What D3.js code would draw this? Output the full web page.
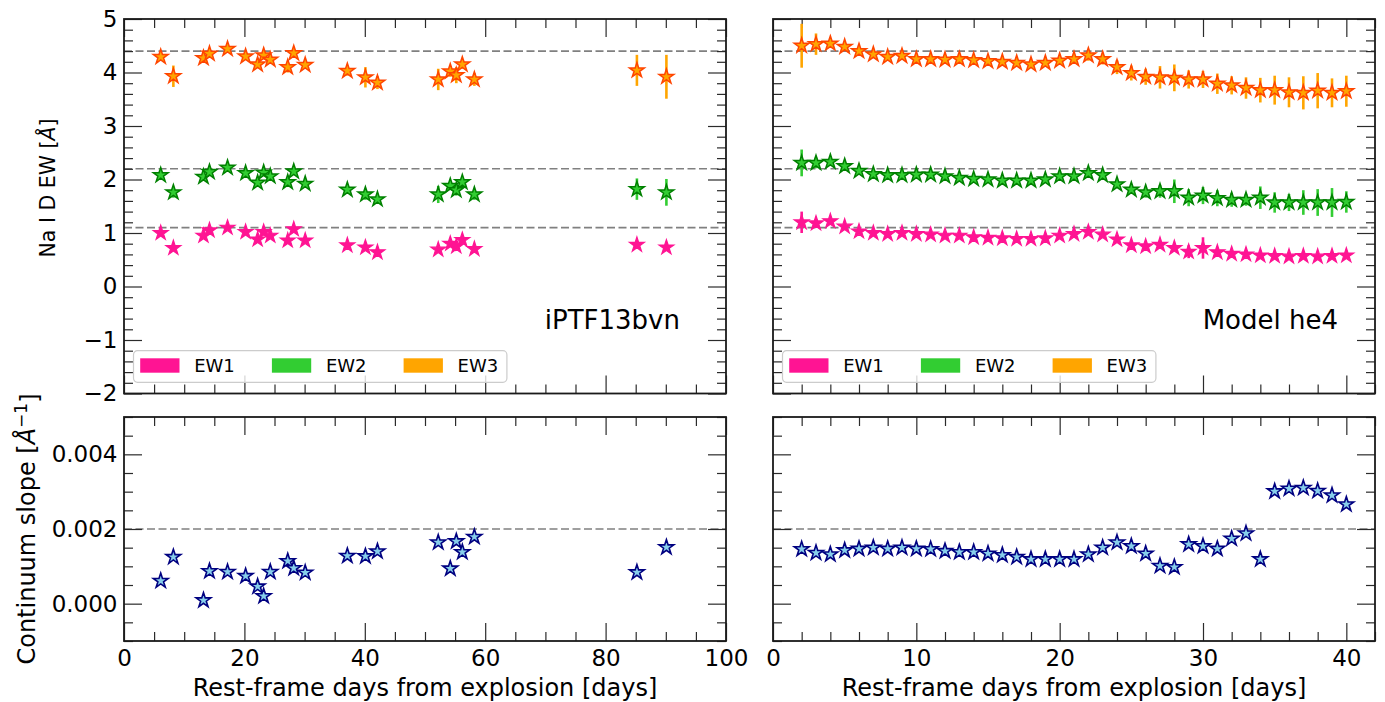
<!DOCTYPE html>
<html>
<head>
<meta charset="utf-8">
<script src="https://cdn.jsdelivr.net/npm/d3@7"></script>
<style>
  body { margin: 0; background: #fff; }
  svg { display: block; font-family: "DejaVu Sans", sans-serif; }
</style>
</head>
<body>
<svg id="fig" width="1385" height="702"></svg>
<script>
// ---- iPTF13bvn observations ----
const daysObs = [6.1, 8.2, 13.2, 14.2, 17.2, 20.2, 22.2, 23.2, 24.3, 27.2, 28.2, 30.1,
                 37.1, 40.1, 42.1, 52.2, 54.2, 55.2, 56.2, 58.2, 85.2, 90.1];
const ew1Obs = [1.00, 0.72, 0.95, 1.05, 1.10, 1.02, 0.88, 1.02, 0.95, 0.86, 1.07, 0.86,
                0.77, 0.73, 0.64, 0.69, 0.80, 0.75, 0.87, 0.70, 0.78, 0.73];
const ew1ObsErr = [0.03, 0.04, 0.03, 0.03, 0.03, 0.03, 0.03, 0.03, 0.03, 0.03, 0.03, 0.03,
                   0.03, 0.04, 0.03, 0.04, 0.03, 0.04, 0.03, 0.03, 0.05, 0.06];
const ew2Obs = [2.08, 1.76, 2.05, 2.14, 2.22, 2.12, 1.94, 2.13, 2.06, 1.95, 2.15, 1.92,
                1.81, 1.72, 1.63, 1.72, 1.88, 1.80, 1.95, 1.72, 1.82, 1.76];
const ew2ObsErr = [0.06, 0.10, 0.06, 0.06, 0.05, 0.05, 0.06, 0.06, 0.06, 0.07, 0.06, 0.06,
                   0.07, 0.10, 0.07, 0.16, 0.08, 0.10, 0.08, 0.10, 0.20, 0.25];
const ew3Obs = [4.29, 3.93, 4.27, 4.35, 4.44, 4.30, 4.15, 4.32, 4.24, 4.10, 4.36, 4.14,
                4.03, 3.91, 3.81, 3.87, 4.02, 3.95, 4.15, 3.87, 4.04, 3.92];
const ew3ObsErr = [0.06, 0.20, 0.07, 0.06, 0.05, 0.05, 0.07, 0.07, 0.06, 0.10, 0.06, 0.06,
                   0.09, 0.19, 0.12, 0.20, 0.10, 0.15, 0.08, 0.12, 0.29, 0.41];
const slopeObs = [0.00061, 0.00125, 0.00009, 0.00087, 0.00085, 0.00074, 0.00046, 0.00020,
                  0.00085, 0.00114, 0.00095, 0.00083, 0.00128, 0.00127, 0.00140, 0.00164,
                  0.00094, 0.00167, 0.00138, 0.00179, 0.00084, 0.00151];

// ---- Model he4 (days 2..40) ----
const daysMod = [2, 3, 4, 5, 6, 7, 8, 9, 10, 11, 12, 13, 14, 15, 16, 17, 18, 19, 20, 21,
                 22, 23, 24, 25, 26, 27, 28, 29, 30, 31, 32, 33, 34, 35, 36, 37, 38, 39, 40];
const ew1Mod = [1.20, 1.18, 1.22, 1.12, 1.03, 1.00, 0.98, 1.00, 0.98, 0.97, 0.95, 0.95, 0.92,
                0.91, 0.90, 0.89, 0.89, 0.90, 0.95, 0.98, 1.02, 0.97, 0.88, 0.77, 0.75, 0.78,
                0.72, 0.65, 0.72, 0.64, 0.61, 0.60, 0.58, 0.57, 0.56, 0.57, 0.56, 0.57, 0.58];
const ew1ModErr = [0.20, 0.08, 0.04, 0.04, 0.04, 0.04, 0.04, 0.04, 0.04, 0.04, 0.04, 0.04, 0.04,
                   0.04, 0.04, 0.04, 0.04, 0.04, 0.04, 0.04, 0.04, 0.04, 0.05, 0.05, 0.05, 0.06,
                   0.06, 0.12, 0.20, 0.06, 0.06, 0.05, 0.05, 0.05, 0.05, 0.05, 0.05, 0.05, 0.05];
const ew2Mod = [2.31, 2.31, 2.33, 2.25, 2.16, 2.10, 2.08, 2.08, 2.09, 2.09, 2.06, 2.03, 2.01,
                2.00, 1.98, 1.98, 1.98, 2.00, 2.06, 2.06, 2.12, 2.08, 1.91, 1.81, 1.76, 1.78,
                1.78, 1.66, 1.70, 1.65, 1.62, 1.62, 1.66, 1.57, 1.57, 1.57, 1.57, 1.57, 1.58];
const ew2ModErr = [0.25, 0.10, 0.05, 0.05, 0.05, 0.05, 0.05, 0.05, 0.05, 0.05, 0.05, 0.05, 0.05,
                   0.05, 0.05, 0.05, 0.05, 0.05, 0.05, 0.05, 0.06, 0.06, 0.07, 0.08, 0.10, 0.12,
                   0.22, 0.16, 0.16, 0.15, 0.13, 0.11, 0.21, 0.19, 0.16, 0.23, 0.25, 0.27, 0.20];
const ew3Mod = [4.50, 4.53, 4.54, 4.48, 4.40, 4.34, 4.29, 4.31, 4.25, 4.25, 4.24, 4.25, 4.23,
                4.21, 4.20, 4.18, 4.15, 4.18, 4.22, 4.25, 4.32, 4.25, 4.10, 3.99, 3.92, 3.91,
                3.90, 3.87, 3.87, 3.79, 3.76, 3.71, 3.67, 3.67, 3.63, 3.62, 3.66, 3.62, 3.65];
const ew3ModErr = [0.41, 0.20, 0.06, 0.05, 0.05, 0.05, 0.05, 0.05, 0.05, 0.05, 0.05, 0.05, 0.05,
                   0.05, 0.05, 0.05, 0.05, 0.05, 0.05, 0.06, 0.10, 0.10, 0.13, 0.14, 0.15, 0.21,
                   0.25, 0.17, 0.16, 0.19, 0.17, 0.20, 0.23, 0.27, 0.28, 0.31, 0.33, 0.27, 0.29];
const slopeMod = [0.00146, 0.00136, 0.00132, 0.00143, 0.00147, 0.00150, 0.00147, 0.00150,
                  0.00147, 0.00146, 0.00141, 0.00138, 0.00138, 0.00134, 0.00130, 0.00125,
                  0.00119, 0.00119, 0.00119, 0.00119, 0.00132, 0.00150, 0.00164, 0.00154,
                  0.00134, 0.00101, 0.00098, 0.00159, 0.00154, 0.00147, 0.00174, 0.00188,
                  0.00119, 0.00301, 0.00308, 0.00310, 0.00302, 0.00290, 0.00266];

// reference levels
const ewRefLevels = [1.1, 2.2, 4.4];
const slopeRefLevels = [0.002];

// legend entries
const legendNames = ["EW1", "EW2", "EW3"];
const legendColors = ["#ff1493", "#32cd32", "#ffa500"];

// axis ticks
const xObsMajor = [0, 20, 40, 60, 80, 100];
const xModMajor = [0, 10, 20, 30, 40];
const ewMajor = [-2, -1, 0, 1, 2, 3, 4, 5];
const slopeMajor = [0, 0.002, 0.004];

const panelTitles = ["iPTF13bvn", "Model he4"];
const xLabelText = "Rest-frame days from explosion [days]";

// ---------------------------------------------------------------
const svg = d3.select("#fig");
const FONT = '"DejaVu Sans", sans-serif';

const colL = [124, 726], colR = [773, 1375];
const rowTop = [393.5, 19], rowBot = [641, 417];

const xObs = d3.scaleLinear().domain([0, 100]).range(colL);
const xMod = d3.scaleLinear().domain([0, 42]).range(colR);
const yEW = d3.scaleLinear().domain([-2, 5]).range(rowTop);
const ySlope = d3.scaleLinear().domain([-0.001, 0.005]).range(rowBot);

function minorTicks(lo, hi, step, majors) {
  const out = [];
  const n = Math.round((hi - lo) / step);
  for (let i = 0; i <= n; i++) {
    const v = +(lo + i * step).toFixed(6);
    if (!majors.some(m => Math.abs(m - v) < step * 1e-3)) out.push(v);
  }
  return out;
}

function styleAxis(sel, showText) {
  sel.select(".domain").remove();
  sel.selectAll(".tick line").attr("stroke", "#2b2b2b").attr("stroke-width", 1.2);
  sel.selectAll(".tick text")
    .attr("font-family", FONT).attr("font-size", 23).attr("fill", "#000")
    .style("display", showText ? null : "none");
  sel.attr("font-family", FONT);
}

function drawFrame(x, y, xMaj, xMin, yMaj, yMin, xLab, yLab, yFmt) {
  const g = svg.append("g");
  const [x0, x1] = x.range();
  const [yb, yt] = y.range();
  const MAJ = -18, MIN = -9;

  const axes = [
    [d3.axisBottom, `translate(0,${yb})`, x, xMaj, xMin, xLab, d3.format("d")],
    [d3.axisTop, `translate(0,${yt})`, x, xMaj, xMin, false, d3.format("d")],
    [d3.axisLeft, `translate(${x0},0)`, y, yMaj, yMin, yLab, yFmt],
    [d3.axisRight, `translate(${x1},0)`, y, yMaj, yMin, false, yFmt]
  ];
  axes.forEach(([maker, tr, sc, maj, mn, lab, fmt]) => {
    const isY = (maker === d3.axisLeft || maker === d3.axisRight);
    g.append("g").attr("transform", tr)
      .call(maker(sc).tickValues(mn).tickSizeInner(MIN).tickSizeOuter(0).tickFormat(""))
      .call(s => styleAxis(s, false));
    g.append("g").attr("transform", tr)
      .call(maker(sc).tickValues(maj).tickSizeInner(MAJ).tickSizeOuter(0)
        .tickPadding(isY ? 6.5 : 9).tickFormat(fmt))
      .call(s => styleAxis(s, lab));
  });

  g.append("rect")
    .attr("x", x0).attr("y", yt).attr("width", x1 - x0).attr("height", yb - yt)
    .attr("fill", "none").attr("stroke", "#1a1a1a").attr("stroke-width", 1.8);
  return g;
}

function drawRefLines(x, y, levels) {
  const [x0, x1] = x.range();
  svg.append("g").selectAll("line").data(levels).join("line")
    .attr("x1", x0).attr("x2", x1)
    .attr("y1", d => y(d)).attr("y2", d => y(d))
    .attr("stroke", "#808080").attr("stroke-width", 1.6)
    .attr("stroke-dasharray", "8,3.5");
}

const starPath = d3.symbol().type(d3.symbolStar).size(68)();

function drawSeries(x, y, days, vals, errs, fill, edge, errColor, edgeW) {
  const g = svg.append("g");
  const idx = d3.range(days.length);
  if (errs) {
    g.selectAll("line").data(idx).join("line")
      .attr("x1", i => x(days[i])).attr("x2", i => x(days[i]))
      .attr("y1", i => y(vals[i] - errs[i])).attr("y2", i => y(vals[i] + errs[i]))
      .attr("stroke", errColor).attr("stroke-width", 2.6);
  }
  g.selectAll("path").data(idx).join("path")
    .attr("d", starPath)
    .attr("transform", i => `translate(${x(days[i])},${y(vals[i])})`)
    .attr("fill", fill).attr("stroke", edge).attr("stroke-width", edgeW)
    .attr("stroke-linejoin", "miter");
}

function drawLegend(x0) {
  const g = svg.append("g").attr("transform", `translate(${x0 + 9.5},350.7)`);
  g.append("rect").attr("width", 373.4).attr("height", 31.6).attr("rx", 4)
    .attr("fill", "#fff").attr("fill-opacity", 0.8)
    .attr("stroke", "#cccccc").attr("stroke-width", 1.2);
  const item = g.selectAll("g.item").data(legendNames).join("g")
    .attr("class", "item").attr("transform", (d, i) => `translate(${6.7 + i * 131.7},0)`);
  item.append("rect").attr("y", 7.6).attr("width", 39.3).attr("height", 14.4)
    .attr("fill", (d, i) => legendColors[i]);
  item.append("text").attr("x", 54).attr("y", 21.3)
    .attr("font-family", FONT).attr("font-size", 18).attr("fill", "#000")
    .text(d => d);
}

// ---- frames & reference lines ----
const ewFmt = d3.format("d");
const slopeFmt = d3.format(".3f");
const ewMinor = minorTicks(-2, 5, 0.2, ewMajor);
const slopeMinor = minorTicks(-0.001, 0.005, 0.0005, slopeMajor);
const xObsMinor = minorTicks(0, 100, 5, xObsMajor);
const xModMinor = minorTicks(0, 42, 2, xModMajor);

drawRefLines(xObs, yEW, ewRefLevels);
drawRefLines(xMod, yEW, ewRefLevels);
drawRefLines(xObs, ySlope, slopeRefLevels);
drawRefLines(xMod, ySlope, slopeRefLevels);

drawFrame(xObs, yEW, xObsMajor, xObsMinor, ewMajor, ewMinor, false, true, ewFmt);
drawFrame(xMod, yEW, xModMajor, xModMinor, ewMajor, ewMinor, false, false, ewFmt);
drawFrame(xObs, ySlope, xObsMajor, xObsMinor, slopeMajor, slopeMinor, true, true, slopeFmt);
drawFrame(xMod, ySlope, xModMajor, xModMinor, slopeMajor, slopeMinor, true, false, slopeFmt);

// ---- equivalent width series ----
drawSeries(xObs, yEW, daysObs, ew1Obs, ew1ObsErr, "#ff1493", "#ff1493", "#ff1493", 1.2);
drawSeries(xObs, yEW, daysObs, ew2Obs, ew2ObsErr, "#32cd32", "#008000", "#32cd32", 1.5);
drawSeries(xObs, yEW, daysObs, ew3Obs, ew3ObsErr, "#ffa500", "#ff4500", "#ffa500", 1.5);
drawSeries(xMod, yEW, daysMod, ew1Mod, ew1ModErr, "#ff1493", "#ff1493", "#ff1493", 1.2);
drawSeries(xMod, yEW, daysMod, ew2Mod, ew2ModErr, "#32cd32", "#008000", "#32cd32", 1.5);
drawSeries(xMod, yEW, daysMod, ew3Mod, ew3ModErr, "#ffa500", "#ff4500", "#ffa500", 1.5);

// ---- continuum slope ----
drawSeries(xObs, ySlope, daysObs, slopeObs, null, "#87ceeb", "#000080", null, 1.6);
drawSeries(xMod, ySlope, daysMod, slopeMod, null, "#87ceeb", "#000080", null, 1.6);

// ---- legends ----
drawLegend(colL[0]);
drawLegend(colR[0]);

// ---- panel titles ----
svg.append("text").attr("x", 680).attr("y", 329).attr("text-anchor", "end")
  .attr("font-family", FONT).attr("font-size", 26).text(panelTitles[0]);
svg.append("text").attr("x", 1338).attr("y", 329).attr("text-anchor", "end")
  .attr("font-family", FONT).attr("font-size", 26).text(panelTitles[1]);

// ---- axis labels ----
[colL, colR].forEach(c => {
  svg.append("text").attr("x", (c[0] + c[1]) / 2).attr("y", 696)
    .attr("text-anchor", "middle").attr("font-family", FONT).attr("font-size", 24)
    .text(xLabelText);
});

const ewLabel = svg.append("text")
  .attr("transform", "translate(55,188) rotate(-90)")
  .attr("text-anchor", "middle").attr("font-family", FONT).attr("font-size", 20.5);
ewLabel.append("tspan").text("Na I D EW [");
ewLabel.append("tspan").attr("font-style", "italic").text("Å");
ewLabel.append("tspan").text("]");

const slopeLabel = svg.append("text")
  .attr("transform", "translate(35,529) rotate(-90)")
  .attr("text-anchor", "middle").attr("font-family", FONT).attr("font-size", 24);
slopeLabel.append("tspan").text("Continuum slope [");
slopeLabel.append("tspan").attr("font-style", "italic").text("Å");
slopeLabel.append("tspan").attr("dy", "-0.45em").attr("font-size", 17).text("−1");
slopeLabel.append("tspan").attr("dy", "0.45em").text("]");
</script>
</body>
</html>
